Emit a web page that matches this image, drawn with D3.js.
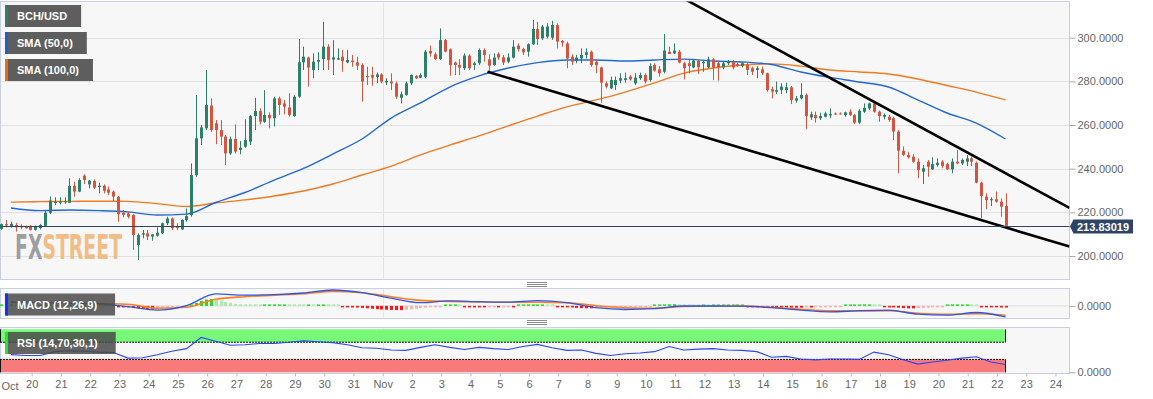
<!DOCTYPE html>
<html>
<head>
<meta charset="utf-8">
<script src="https://cdn.jsdelivr.net/npm/d3@7"></script>
<style>
  body { margin: 0; background: #fff; }
  svg { display: block; font-family: "Liberation Sans", Arial, sans-serif; }
</style>
</head>
<body>
<svg id="chart" width="1153" height="399"></svg>
<script>
// ---- data ----
var candleStart = Date.UTC(2018, 9, 18, 23);   // first 4h candle
var candleStep = 4 * 3600e3;
// [open, high, low, close]
var candles = [
  [212.4,214.9,212.0,214.6],[214.6,216.5,213.1,214.0],[213.6,215.7,213.0,214.7],[214.2,215.2,211.2,213.1],
  [213.8,214.6,212.2,213.1],[213.4,213.9,212.5,212.7],[213.6,214.2,211.6,212.0],[212.0,214.0,211.6,213.7],
  [212.8,214.7,212.2,214.2],[213.8,221.1,213.5,219.8],[219.8,227.2,219.2,225.4],[224.3,226.9,223.4,224.9],
  [224.4,226.9,223.6,225.0],[224.6,226.9,224.0,225.0],[224.4,235.6,224.3,232.1],[232.2,234.0,227.2,229.5],
  [229.5,235.6,229.2,234.8],[236.8,237.4,233.0,234.8],[232.8,234.8,231.0,234.5],[234.4,235.1,230.7,231.3],
  [231.6,233.6,228.7,232.2],[232.2,232.8,228.7,229.9],[230.5,231.8,227.9,229.0],[229.5,230.0,225.2,227.2],
  [227.2,227.5,215.7,219.2],[219.8,221.1,217.7,218.8],[219.5,220.2,217.2,218.0],[218.8,219.2,202.8,209.6],
  [205.0,210.4,198.2,209.6],[209.8,211.9,208.1,210.4],[210.4,211.9,207.3,208.9],[208.9,210.0,207.0,209.9],
  [209.3,213.1,208.9,210.7],[210.4,215.3,210.1,215.0],[215.0,218.0,214.2,217.2],[217.2,217.6,211.9,212.7],
  [213.6,215.0,211.9,212.8],[212.2,216.8,211.9,216.5],[216.5,221.8,215.7,218.3],[218.8,242.4,218.0,237.1],
  [237.0,273.8,236.3,253.9],[253.9,260.0,250.8,258.9],[258.5,285.2,257.7,269.2],[268.9,272.2,256.9,257.7],
  [260.8,262.3,251.2,257.7],[257.7,262.3,250.8,254.7],[254.7,255.4,241.7,247.0],[247.0,254.7,246.3,253.6],
  [253.6,260.3,247.0,247.8],[248.6,252.7,246.6,249.6],[250.1,262.6,249.6,253.1],[252.4,264.6,250.8,264.1],
  [264.1,272.5,257.7,266.4],[266.4,267.6,260.3,261.5],[261.5,276.0,261.0,264.6],[264.6,265.8,258.5,263.1],
  [263.1,273.0,259.3,272.2],[272.2,273.0,264.6,269.2],[269.9,271.5,264.9,268.4],[268.0,274.5,263.8,264.6],
  [264.1,273.8,263.8,273.0],[273.0,299.4,272.5,288.7],[288.7,295.9,285.2,291.3],[290.9,291.3,277.6,286.3],
  [285.2,292.8,281.4,289.0],[289.0,293.3,285.2,289.8],[290.2,307.3,285.2,295.9],[295.9,297.0,285.2,289.8],
  [290.0,298.9,282.9,291.0],[290.0,295.1,289.8,290.6],[291.3,294.4,284.4,289.3],[288.7,294.4,288.3,289.8],
  [289.5,292.1,286.7,288.9],[288.7,291.3,285.2,287.2],[287.5,288.3,270.7,279.9],[282.4,286.7,278.3,281.9],
  [282.9,286.7,278.0,281.7],[282.0,284.1,279.1,283.2],[283.2,283.7,279.1,279.9],[279.5,281.4,278.3,280.2],
  [279.9,283.7,276.0,279.1],[279.1,279.9,271.9,273.0],[272.5,275.3,269.9,274.1],[273.8,279.9,273.4,279.1],
  [279.1,283.2,278.3,282.9],[282.4,282.9,281.1,281.4],[281.7,283.7,281.4,282.9],[282.1,294.4,281.4,293.6],
  [293.9,296.4,291.3,292.8],[292.4,293.3,289.8,290.2],[290.2,304.3,289.8,298.9],[298.9,299.4,293.3,293.6],
  [294.7,295.1,282.6,287.5],[288.6,289.0,282.9,287.5],[287.5,290.2,282.9,286.3],[286.0,292.8,285.2,291.8],
  [291.8,292.4,285.2,286.0],[287.5,289.0,285.2,288.3],[288.3,295.1,287.5,294.4],[294.4,295.1,289.0,292.1],
  [290.1,292.4,284.4,287.2],[287.5,292.8,287.2,290.9],[292.5,293.3,289.8,290.9],[291.0,292.1,287.5,288.6],
  [289.0,292.8,288.3,291.0],[290.9,298.9,290.5,295.9],[296.4,297.4,293.6,294.7],[294.8,295.4,292.1,293.3],
  [293.6,297.4,291.3,297.0],[297.0,308.1,296.7,304.0],[304.0,307.3,296.7,299.4],[299.7,305.8,298.9,305.1],
  [300.5,306.6,299.7,305.1],[300.0,307.7,299.0,305.8],[305.8,306.6,295.1,298.2],[298.5,298.9,295.9,297.7],
  [297.4,298.2,286.0,290.5],[291.3,292.4,287.5,289.0],[289.3,292.1,288.3,290.9],[290.5,295.1,288.3,292.1],
  [292.1,295.1,290.5,293.3],[293.6,294.1,286.7,287.5],[289.0,289.5,283.7,287.5],[286.4,286.7,270.2,279.4],
  [279.1,279.9,276.8,277.6],[276.8,282.2,276.4,280.6],[278.3,282.2,276.0,280.6],[280.3,283.7,279.1,281.4],
  [280.6,284.0,279.4,281.4],[282.2,282.9,280.3,280.9],[279.1,283.7,278.3,281.7],[281.4,284.0,280.6,282.9],
  [282.9,283.7,279.1,279.9],[280.6,288.3,279.9,287.0],[287.5,288.3,284.4,284.9],[285.5,287.0,282.2,283.7],
  [284.4,301.7,283.7,294.1],[293.6,295.9,292.5,292.5],[292.8,297.4,292.5,294.1],[293.6,294.4,288.3,288.6],
  [288.3,289.0,280.9,286.0],[288.3,289.8,283.7,287.0],[286.4,289.8,286.0,289.5],[289.5,289.8,283.4,286.4],
  [288.3,289.8,284.4,289.0],[286.4,291.3,286.0,290.1],[290.1,290.6,280.6,286.4],[288.3,289.0,280.3,286.4],
  [286.4,289.0,285.5,288.3],[288.3,289.8,287.5,289.0],[289.0,289.8,285.5,286.4],[287.9,288.6,286.7,287.0],
  [287.0,289.0,286.4,288.3],[287.5,288.3,282.9,285.2],[286.0,286.7,282.9,284.4],[285.2,287.0,281.4,286.0],
  [285.5,286.7,282.9,283.7],[283.7,284.0,275.3,276.0],[276.4,277.6,272.2,275.3],[275.3,279.9,274.2,276.0],
  [276.0,279.1,274.2,277.6],[276.0,279.4,274.5,277.3],[277.3,277.9,269.6,271.5],[271.2,273.3,270.2,272.2],
  [272.2,279.1,271.8,273.8],[273.8,274.5,258.0,264.1],[263.5,266.1,262.3,264.9],[264.6,266.1,261.1,263.1],
  [263.1,265.6,262.3,264.1],[263.8,266.1,263.5,265.3],[264.4,267.6,263.1,265.0],[265.3,265.8,264.6,264.9],
  [265.3,265.8,264.9,265.0],[264.6,266.1,263.8,265.8],[266.1,267.2,264.1,264.6],[264.6,265.0,260.4,261.1],
  [261.1,267.2,260.4,266.6],[266.1,269.9,265.6,267.9],[267.6,270.2,266.9,269.9],[269.9,270.2,265.6,266.1],
  [266.1,266.6,261.5,264.1],[263.8,265.3,262.6,264.6],[263.8,264.6,261.5,262.3],[263.1,263.8,253.1,257.0],
  [257.0,257.7,237.9,248.2],[248.2,250.1,245.8,246.3],[246.3,247.8,244.7,245.2],[245.5,246.7,242.7,243.2],
  [243.2,244.7,235.6,239.4],[238.6,241.7,233.0,240.2],[243.2,244.0,236.3,240.9],[239.7,245.2,239.4,242.1],
  [241.7,244.7,240.9,242.7],[243.2,244.0,240.2,241.2],[242.1,242.7,239.4,239.7],[239.7,244.7,237.9,243.2],
  [243.2,248.5,242.1,242.4],[242.4,244.7,241.7,244.0],[243.2,246.3,241.2,244.7],[244.7,245.5,241.2,243.2],
  [242.7,243.2,233.3,233.6],[233.6,234.0,217.3,227.5],[227.2,228.7,221.4,225.6],[225.6,226.9,222.9,226.0],
  [226.0,229.5,224.4,224.9],[224.9,226.4,218.0,222.6],[222.9,228.7,212.7,213.83]
];

// daily samples (every 6th candle, from the 3rd)
var sampleStart = candleStart + 2 * candleStep;
var sampleStep = 24 * 3600e3;
var sma50 = [222.0,220.8,221.1,220.8,220.2,218.8,219.2,224.5,229.1,234.8,240.1,246.7,253.6,263.2,270.1,
  277.4,282.5,286.1,288.6,289.8,289.8,289.3,289.8,290.2,289.3,288.9,287.7,284.3,281.8,279.7,277.4,271.5,
  265.5,260.9,253.6];
var sma100 = [224.7,224.9,225.0,225.1,225.0,224.0,222.7,224.3,225.7,227.5,229.8,233.0,237.1,241.2,246.3,
  250.8,255.0,259.6,264.1,268.3,271.5,275.1,279.3,283.8,286.1,287.5,288.0,287.0,285.2,284.3,283.4,281.1,
  278.1,275.1,271.5];
var macdLine = [1.9,1.6,1.3,1.0,-0.4,-2.15,0.1,6.0,5.35,5.6,6.45,7.95,6.6,3.85,1.6,2.5,2.1,1.85,2.6,1.6,
  -0.9,-1.8,-1.4,-0.05,-0.05,-0.1,-0.9,-2.15,-3.0,-2.4,-2.15,-4.15,-4.65,-3.3,-5.5];
var signalLine = [1.8,1.55,1.3,1.1,0.85,-1.15,-0.65,3.35,4.6,5.35,6.1,7.25,6.6,4.6,2.75,2.25,1.95,1.85,1.85,
  1.6,0.1,-0.9,-1.15,-0.3,-0.05,-0.1,-0.65,-1.65,-2.5,-2.55,-2.4,-3.65,-4.15,-3.9,-4.65];
// RSI every 12 hours (every 3rd candle, from the 3rd)
var rsiStep = 12 * 3600e3;
var rsiLine = [41,39,39,48,50,49,47,46,33,34,41,49,55,81,72,63,64,67,67,70,73,71,69,64,57,56,52,51,58,64,
  58,53,58,55,53,60,65,57,51,52,44,39,43,45,48,60,52,54,55,52,51,48,35,37,31,29,31,31,30,47,41,29,19,24,
  28,33,36,24,18];
// one histogram bar per candle
var macdHist = [
  0.35,0.3,0.3,0.25,0.3,0.25,0.2,0.25,0.2,0.3,0.35,0.3,
  0.25,0.2,0.3,0.25,0.2,0.2,0.15,0.15,0.1,0.1,0.05,0.05,
  -0.3,-0.5,-0.7,-0.9,-1.2,-1.4,-1.6,-1.7,-1.6,-1.3,
  -1.0,-0.8,-0.6,-0.4,-0.2,
  0.6,1.5,2.5,3.2,3.4,3.0,2.6,2.0,1.5,1.0,
  0.6,0.5,0.4,0.35,0.3,0.3,0.4,0.5,0.6,0.6,0.5,0.4,0.35,0.3,0.3,0.25,0.3,0.35,0.3,0.25,0.2,
  -0.2,-0.4,-0.6,-0.8,-1.0,-1.2,-1.4,-1.6,-1.8,-1.9,-2.0,-2.1,-2.1,-2.0,-1.7,-1.4,-1.1,
  -0.9,-0.7,-0.5,-0.3,0.2,0.3,0.3,0.2,-0.1,-0.2,-0.3,-0.3,-0.3,-0.25,-0.2,-0.2,-0.15,-0.1,-0.1,
  0.1,0.2,0.3,0.4,0.5,0.5,0.4,0.3,
  -0.2,-0.4,-0.6,-0.8,-1.0,-1.1,-1.2,-1.2,-1.1,-1.0,-0.9,-0.8,
  -0.7,-0.6,-0.5,-0.4,-0.3,-0.25,-0.2,-0.1,
  0.2,0.4,0.6,0.8,0.9,0.7,0.5,
  0.3,0.2,0.1,0.1,0.05,0.05,0.05,0.05,0.05,0.05,0.05,0.05,-0.05,-0.05,-0.05,
  -0.3,-0.5,-0.6,-0.7,-0.8,-0.8,-0.9,-0.9,-0.9,-0.8,-0.8,-0.7,-0.6,-0.5,-0.4,-0.3,-0.2,
  0.1,0.2,0.3,0.4,0.5,0.5,0.4,0.3,
  -0.3,-0.5,-0.7,-0.9,-1.1,-1.2,-1.2,-1.1,-1.0,-0.9,-0.7,-0.5,-0.3,
  0.1,0.3,0.5,0.6,0.6,0.5,0.3,
  -0.3,-0.5,-0.6,-0.7,-0.8,-0.8
];

var priceTicks = [200, 220, 240, 260, 280, 300];
var dayTicks = d3.utcDays(Date.UTC(2018, 9, 20), Date.UTC(2018, 10, 25));
var trendUpper = [[Date.UTC(2018, 10, 11, 9), 317.3], [Date.UTC(2018, 10, 24, 11, 30), 222.0]];
var trendLower = [[Date.UTC(2018, 10, 4, 14), 284.4], [Date.UTC(2018, 10, 24, 11, 30), 204.3]];
var lastPrice = 213.83019;
var legendNames = ["BCH/USD", "SMA (50,0)", "SMA (100,0)"];
var legendColors = ["#2d8068", "#1c5fd1", "#ee6a12"];

// ---- layout ----
var plotR = 1069.5;
var main = {top: 1.5, bottom: 279.5};
var macdP = {top: 288.5, bottom: 318.5};
var rsiP = {top: 327.5, bottom: 373.5};
var upColor = "#2d8068", downColor = "#d4553f";

var svg = d3.select("#chart");

var x = d3.scaleUtc()
  .domain([Date.UTC(2018, 9, 18, 22), Date.UTC(2018, 10, 24, 11, 30)])
  .range([0, plotR]);
var y = d3.scaleLinear().domain([200, 300]).range([256, 37.7]);
var yMacd = d3.scaleLinear().domain([-6.3, 8.7]).range([macdP.bottom, macdP.top]);
var yRsi = d3.scaleLinear().domain([0, 100]).range([372.3, 329.3]);

var candleTime = function(i) { return candleStart + i * candleStep; };
var sampleTime = function(k) { return sampleStart + k * sampleStep; };
var lastX = x(candleTime(candles.length - 1));

var defs = svg.append("defs");
[["clipMain", main], ["clipMacd", macdP], ["clipRsi", rsiP]].forEach(function(c) {
  defs.append("clipPath").attr("id", c[0]).append("rect")
    .attr("x", 0).attr("y", c[1].top).attr("width", plotR).attr("height", c[1].bottom - c[1].top);
});
// two-tone fill for the watermark (grey "FX", orange "STREET")
var wmGrad = defs.append("linearGradient").attr("id", "wmFill")
  .attr("gradientUnits", "userSpaceOnUse").attr("x1", 15).attr("x2", 122).attr("y1", 0).attr("y2", 0);
wmGrad.append("stop").attr("offset", 0).attr("stop-color", "#8f8f8f");
wmGrad.append("stop").attr("offset", 0.25).attr("stop-color", "#8f8f8f");
wmGrad.append("stop").attr("offset", 0.25).attr("stop-color", "#f0b272");
wmGrad.append("stop").attr("offset", 1).attr("stop-color", "#f0b272");

// panels
[main, macdP, rsiP].forEach(function(p) {
  svg.append("rect").attr("x", 0.5).attr("y", p.top).attr("width", plotR - 0.5).attr("height", p.bottom - p.top)
    .attr("fill", "#f7f7f7").attr("stroke", "#c8cfe2");
});

// grid
svg.append("g").selectAll("line").data(priceTicks).enter().append("line")
  .attr("x1", 1).attr("x2", plotR).attr("y1", function(d) { return Math.round(y(d)) + 0.5; })
  .attr("y2", function(d) { return Math.round(y(d)) + 0.5; })
  .attr("stroke", "#e1e1e1");
var novX = Math.round(x(Date.UTC(2018, 10, 1))) + 0.5;
[main, macdP, rsiP].forEach(function(p) {
  svg.append("line").attr("x1", novX).attr("x2", novX).attr("y1", p.top + 1).attr("y2", p.bottom - 1)
    .attr("stroke", "#e4e4e4");
});
svg.append("line").attr("x1", 1).attr("x2", plotR).attr("y1", yMacd(0)).attr("y2", yMacd(0)).attr("stroke", "#dcdcdc");

// watermark
svg.append("text").attr("x", 15).attr("y", 259)
  .style("font-family", "'Liberation Sans Narrow', 'DejaVu Sans Condensed', sans-serif")
  .style("font-weight", "bold").style("font-size", "34px")
  .attr("fill", "url(#wmFill)").attr("fill-opacity", 0.85)
  .attr("textLength", 107).attr("lengthAdjust", "spacingAndGlyphs").text("FXSTREET");

// moving averages
var gMain = svg.append("g").attr("clip-path", "url(#clipMain)");
var smaLine = d3.line()
  .x(function(d, k) { return x(sampleTime(k)); })
  .y(function(d) { return y(d); })
  .curve(d3.curveMonotoneX);
gMain.append("path").attr("d", smaLine(sma100)).attr("fill", "none").attr("stroke", "#f07a22").attr("stroke-width", 1.4);
gMain.append("path").attr("d", smaLine(sma50)).attr("fill", "none").attr("stroke", "#2268d4").attr("stroke-width", 1.4);

// candles
var bw = 3;
var cg = gMain.append("g").selectAll("g").data(candles).enter().append("g")
  .attr("fill", function(d) { return d[3] >= d[0] ? upColor : downColor; })
  .attr("stroke", function(d) { return d[3] >= d[0] ? upColor : downColor; });
cg.append("line")
  .attr("x1", function(d, i) { return Math.round(x(candleTime(i))) + 0.5; })
  .attr("x2", function(d, i) { return Math.round(x(candleTime(i))) + 0.5; })
  .attr("y1", function(d) { return y(d[1]); })
  .attr("y2", function(d) { return y(d[2]); });
cg.append("rect")
  .attr("stroke", "none")
  .attr("x", function(d, i) { return Math.round(x(candleTime(i))) - 1; })
  .attr("width", bw)
  .attr("y", function(d) { return y(Math.max(d[0], d[3])); })
  .attr("height", function(d) { return Math.max(1, Math.abs(y(d[0]) - y(d[3]))); });

// trend lines
var tl = d3.line().x(function(d) { return x(d[0]); }).y(function(d) { return y(d[1]); });
[trendUpper, trendLower].forEach(function(t) {
  gMain.append("path").attr("d", tl(t)).attr("fill", "none").attr("stroke", "#000").attr("stroke-width", 2.6);
});

// last price line
var py = Math.round(y(lastPrice)) + 0.5;
svg.append("line").attr("x1", 1).attr("x2", plotR).attr("y1", py).attr("y2", py)
  .attr("stroke", "#2c4468").attr("stroke-width", 1);

// legend
var lg = svg.append("g").selectAll("g").data(legendNames).enter().append("g")
  .attr("transform", function(d, i) { return "translate(5," + (5 + i * 27) + ")"; });
var lgRect = lg.append("rect").attr("height", 22).attr("fill", "#5e5e5e");
lg.append("rect").attr("width", 3).attr("height", 22).attr("fill", function(d, i) { return legendColors[i]; });
var lgText = lg.append("text").attr("x", 12).attr("y", 15).attr("fill", "#fff")
  .style("font-size", "11px").style("font-weight", "bold").text(function(d) { return d; });
lgText.each(function(d, i) {
  d3.select(lgRect.nodes()[i]).attr("width", this.getComputedTextLength() + 26);
});

// right axis (price)
var axY = svg.append("g").attr("transform", "translate(" + plotR + ",0)")
  .call(d3.axisRight(y).tickValues(priceTicks).tickFormat(d3.format(".4f")).tickSize(6).tickPadding(2));
axY.select(".domain").remove();
axY.selectAll("line").attr("stroke", "#aaa");
axY.selectAll("text").attr("fill", "#666").style("font-size", "11px").style("font-family", "'Liberation Sans', Arial, sans-serif");

// price tag
svg.append("path")
  .attr("d", "M" + (plotR + 0.5) + "," + py + "L" + (plotR + 4) + "," + (py - 7) + "H1133V" + (py + 7) + "H" + (plotR + 4) + "Z")
  .attr("fill", "#2c4468");
svg.append("text").attr("x", 1103).attr("y", py + 4).attr("text-anchor", "middle").attr("fill", "#fff")
  .style("font-size", "11px").style("font-weight", "bold").text(d3.format(".5f")(lastPrice));

// MACD panel
var gMacd = svg.append("g").attr("clip-path", "url(#clipMacd)");
gMacd.append("g").selectAll("rect").data(macdHist).enter().append("rect")
  .attr("x", function(d, i) { return Math.round(x(candleTime(i))) - 1; })
  .attr("width", 3)
  .attr("y", function(d) { return d >= 0 ? Math.min(yMacd(d), yMacd(0) - 1.5) : yMacd(0); })
  .attr("height", function(d) { return Math.max(1.5, Math.abs(yMacd(d) - yMacd(0))); })
  .attr("fill", function(d, i) {
    var p = i > 0 ? macdHist[i - 1] : d;
    if (d >= 0) return d >= p ? "#1ee01e" : "#a8eca8";
    return d <= p ? "#ff1414" : "#f6b4b4";
  });
var macdPath = d3.line()
  .x(function(d, k) { return x(sampleTime(k)); })
  .y(function(d) { return yMacd(d); })
  .curve(d3.curveMonotoneX);
gMacd.append("path").attr("d", macdPath(signalLine)).attr("fill", "none").attr("stroke", "#ff7f1e").attr("stroke-width", 1.6);
gMacd.append("path").attr("d", macdPath(macdLine)).attr("fill", "none").attr("stroke", "#2f55e8").attr("stroke-width", 1.3);

var axM = svg.append("g").attr("transform", "translate(" + plotR + ",0)")
  .call(d3.axisRight(yMacd).tickValues([0]).tickFormat(d3.format(".4f")).tickSize(6).tickPadding(2));
axM.select(".domain").remove();
axM.selectAll("line").attr("stroke", "#aaa");
axM.selectAll("text").attr("fill", "#666").style("font-size", "11px");

// RSI panel
var gRsi = svg.append("g").attr("clip-path", "url(#clipRsi)");
gRsi.append("rect").attr("x", 0).attr("width", lastX).attr("y", yRsi(100)).attr("height", yRsi(70) - yRsi(100)).attr("fill", "#78f878");
gRsi.append("rect").attr("x", 0).attr("width", lastX).attr("y", yRsi(30)).attr("height", yRsi(0) - yRsi(30)).attr("fill", "#f87a7a");
[70, 30].forEach(function(v) {
  gRsi.append("line").attr("x1", 0).attr("x2", lastX).attr("y1", yRsi(v)).attr("y2", yRsi(v))
    .attr("stroke", "#111").attr("stroke-dasharray", "2,1");
});
[[100, 70], [30, 0]].forEach(function(b) {
  [0.5, lastX].forEach(function(xx) {
    gRsi.append("line").attr("x1", xx).attr("x2", xx).attr("y1", yRsi(b[0])).attr("y2", yRsi(b[1])).attr("stroke", "#111");
  });
});
var rsiPath = d3.line()
  .x(function(d, m) { return x(sampleStart + m * rsiStep); })
  .y(function(d) { return yRsi(d); });
gRsi.append("path").attr("d", rsiPath(rsiLine)).attr("fill", "none").attr("stroke", "#2a48ee").attr("stroke-width", 1.1);

var axR = svg.append("g").attr("transform", "translate(" + plotR + ",0)")
  .call(d3.axisRight(yRsi).tickValues([0]).tickFormat(d3.format(".4f")).tickSize(6).tickPadding(2));
axR.select(".domain").remove();
axR.selectAll("line").attr("stroke", "#aaa");
axR.selectAll("text").attr("fill", "#666").style("font-size", "11px");

// indicator labels
var ind = [
  {name: "MACD (12,26,9)", color: "#1030ff", y: 293.5},
  {name: "RSI (14,70,30,1)", color: "#2ee02e", y: 332}
];
ind.forEach(function(o) {
  var g = svg.append("g").attr("transform", "translate(5," + o.y + ")");
  var r = g.append("rect").attr("height", 22).attr("fill", "#4a4a4a").attr("fill-opacity", 0.85);
  g.append("rect").attr("width", 3).attr("height", 22).attr("fill", o.color);
  var t = g.append("text").attr("x", 12).attr("y", 15).attr("fill", "#fff")
    .style("font-size", "11px").style("font-weight", "bold").text(o.name);
  r.attr("width", t.node().getComputedTextLength() + 30);
});

// panel resize handles
[284.5, 322.5].forEach(function(hy) {
  [-2, 0, 2].forEach(function(dy) {
    svg.append("line").attr("x1", 527).attr("x2", 547).attr("y1", hy + dy).attr("y2", hy + dy)
      .attr("stroke", "#8a8a8a").attr("stroke-width", 1);
  });
});

// bottom axis (days)
var axX = svg.append("g").attr("transform", "translate(0," + rsiP.bottom + ")")
  .call(d3.axisBottom(x).tickValues(dayTicks).tickSize(3).tickPadding(4)
    .tickFormat(function(d) { return d.getUTCDate() === 1 ? d3.utcFormat("%b")(d) : String(d.getUTCDate()); }));
axX.select(".domain").remove();
axX.selectAll("line").attr("stroke", "#bbb");
axX.selectAll("text").attr("fill", "#666").style("font-size", "11px");
svg.append("text").attr("x", x(dayTicks[0]) - 13).attr("y", rsiP.bottom + 16.5).attr("text-anchor", "end")
  .attr("fill", "#666").style("font-size", "11px").text(d3.utcFormat("%b")(dayTicks[0]));
</script>
</body>
</html>
